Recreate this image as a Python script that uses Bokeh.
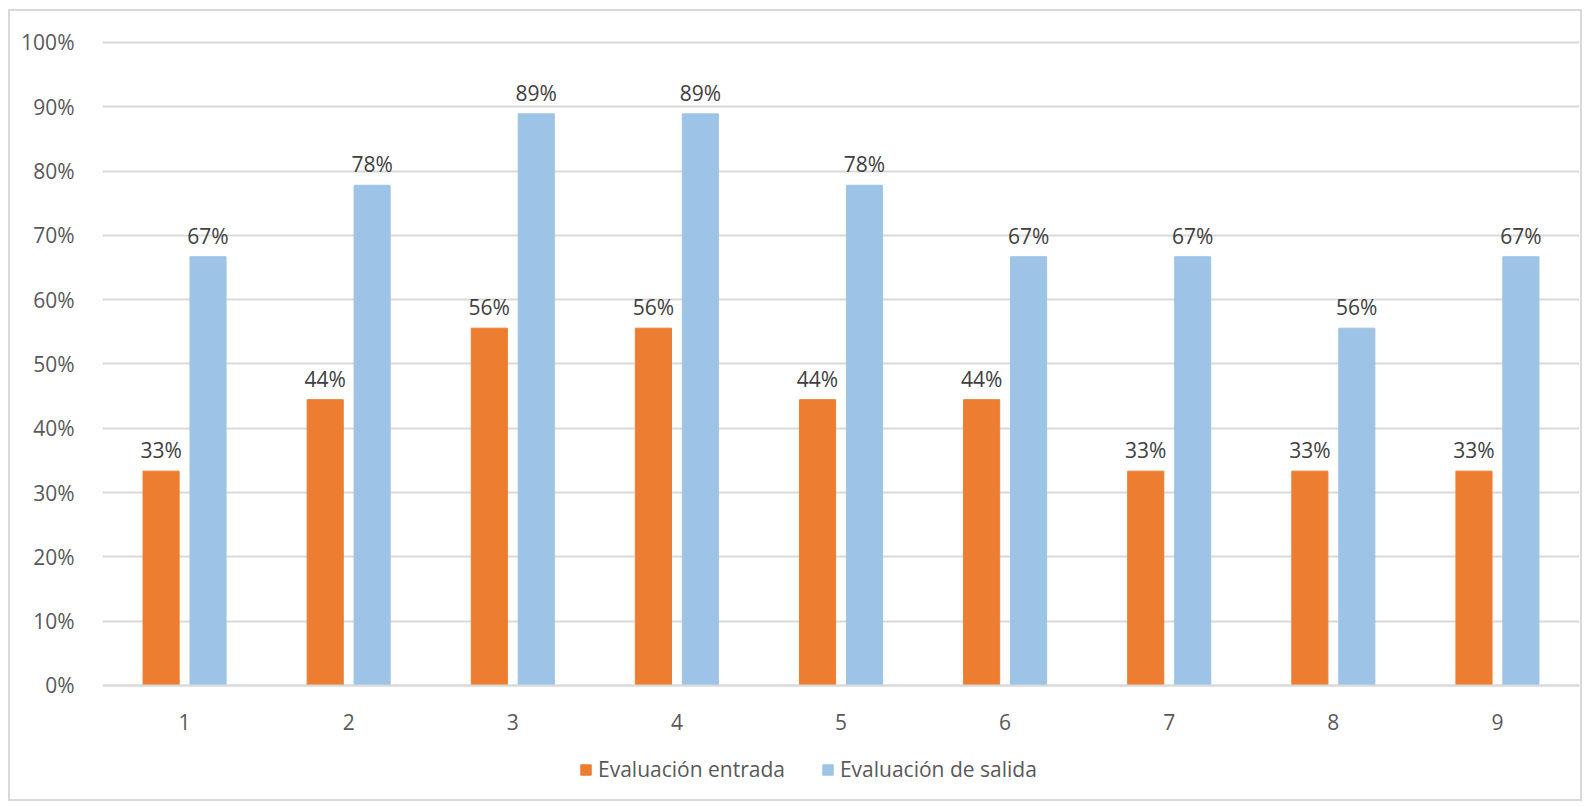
from bokeh.plotting import figure
from bokeh.models import ColumnDataSource, FactorRange, Legend, LabelSet, NumeralTickFormatter, FixedTicker
from bokeh.core.properties import value
from bokeh.transform import dodge
from bokeh.embed import file_html
from bokeh.resources import INLINE

categories = ["1", "2", "3", "4", "5", "6", "7", "8", "9"]
entrada = [0.3333, 0.4444, 0.5556, 0.5556, 0.4444, 0.4444, 0.3333, 0.3333, 0.3333]
salida = [0.6667, 0.7778, 0.8889, 0.8889, 0.7778, 0.6667, 0.6667, 0.5556, 0.6667]
series_names = ["Evaluación entrada", "Evaluación de salida"]
colors = ["#ED7D31", "#9DC3E6"]

src = ColumnDataSource(dict(
    cat=categories,
    entrada=entrada,
    salida=salida,
    lab_e=[f"{round(v*100)}%" for v in entrada],
    lab_s=[f"{round(v*100)}%" for v in salida],
))

FONT = "Open Sans"
FS = "21px"

# frame extends below 0 so the legend can sit inside it
p = figure(x_range=FactorRange(*categories, range_padding=0), y_range=(-0.1836, 1.003),
           width=1574, height=792, output_backend="svg", toolbar_location=None,
           min_border_left=92, min_border_right=5, min_border_top=29, min_border_bottom=0)
p.styles = {"border": "2px solid #d9d9d9", "margin-left": "8px", "margin-top": "9px"}

off = 0.143
w = 0.22
r1 = p.vbar(x=dodge("cat", -off, range=p.x_range), top="entrada", width=w, source=src,
            fill_color=colors[0], line_color=colors[0])
r2 = p.vbar(x=dodge("cat", off, range=p.x_range), top="salida", width=w, source=src,
            fill_color=colors[1], line_color=colors[1])

for col, lab, o in [("entrada", "lab_e", -off), ("salida", "lab_s", off)]:
    ls = LabelSet(x=dodge("cat", o, range=p.x_range), y=col, text=lab, source=src,
                  text_align="center", text_baseline="bottom", y_offset=7,
                  text_font=value(FONT), text_font_size=value(FS), text_color="#404040")
    p.add_layout(ls)

p.yaxis.ticker = FixedTicker(ticks=[i / 10 for i in range(11)])
p.yaxis.formatter = NumeralTickFormatter(format="0%")
p.yaxis.axis_line_color = None
p.yaxis.major_tick_line_color = None
p.yaxis.minor_tick_line_color = None
p.yaxis.major_label_text_font = FONT
p.yaxis.major_label_text_font_size = FS
p.yaxis.major_label_text_color = "#595959"
p.yaxis.major_label_standoff = 22

p.xaxis.fixed_location = 0
p.xaxis.axis_line_color = "#d9d9d9"
p.xaxis.axis_line_width = 2
p.xaxis.major_tick_line_color = None
p.xaxis.minor_tick_line_color = None
p.xaxis.major_label_text_font = FONT
p.xaxis.major_label_text_font_size = FS
p.xaxis.major_label_text_color = "#595959"
p.xaxis.major_label_standoff = 23

p.xgrid.grid_line_color = None
p.ygrid.grid_line_color = "#d9d9d9"
p.ygrid.grid_line_width = 2
p.outline_line_color = None

legend = Legend(items=[(series_names[0], [r1]), (series_names[1], [r2])],
                orientation="horizontal", location=(477, 20),
                label_text_font=FONT, label_text_font_size=FS, label_text_color="#595959",
                glyph_width=13, glyph_height=13, spacing=36, border_line_color=None,
                background_fill_alpha=0, margin=0, padding=4, label_standoff=6)
p.add_layout(legend, "center")

open("out.html", "w").write(file_html(p, INLINE))
